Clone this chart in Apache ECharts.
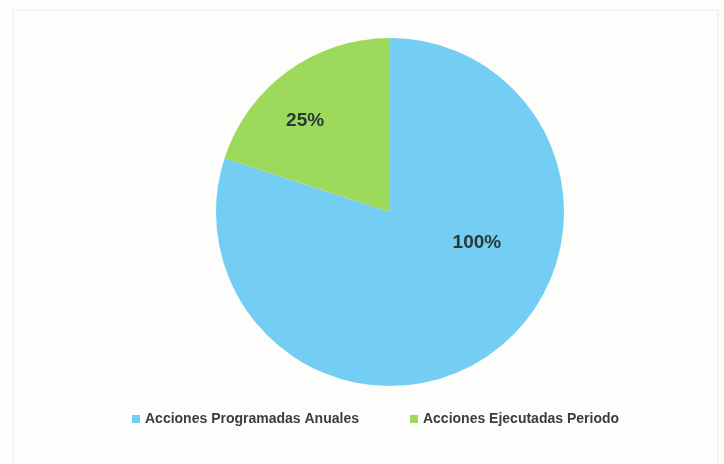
<!DOCTYPE html>
<html>
<head>
<meta charset="utf-8">
<script src="https://cdn.jsdelivr.net/npm/echarts@6/dist/echarts.min.js"></script>
<style>
  html, body { margin: 0; padding: 0; background: #fdfdfb; }
  #chart { width: 724px; height: 464px; }
</style>
</head>
<body>
<div id="chart"></div>
<script>
// Acciones programadas vs. ejecutadas en el periodo
const categories = ['Acciones Programadas Anuales', 'Acciones Ejecutadas Periodo'];
const values = [100, 25];
const colors = ['#74cdf3', '#9dd95b'];
const labelOffsets = [[34, -42], [-32, -18]];

const chart = echarts.init(document.getElementById('chart'), null, { renderer: 'canvas' });

chart.setOption({
  backgroundColor: '#fdfdfb',
  animation: false,
  graphic: [{
    type: 'rect',
    shape: { x: 13, y: 10, width: 705, height: 460 },
    style: { fill: 'none', stroke: '#e6efec', lineWidth: 1 },
    silent: true
  }],
  legend: {
    bottom: 33,
    left: 127,
    itemWidth: 8,
    itemHeight: 8,
    itemGap: 51,
    icon: 'rect',
    textStyle: {
      fontFamily: 'Liberation Sans, Arial, sans-serif',
      fontSize: 14,
      fontWeight: 'bold',
      color: '#3a3d3d',
      padding: [0, 0, 0, 0]
    },
    data: categories
  },
  series: [{
    type: 'pie',
    center: [390, 212],
    radius: 174,
    startAngle: 90,
    clockwise: true,
    label: {
      show: true,
      position: 'inside',
      formatter: '{c}%',
      fontFamily: 'Liberation Sans, Arial, sans-serif',
      fontWeight: 'bold',
      fontSize: 19,
      color: '#2b3838'
    },
    labelLine: { show: false },
    emphasis: { disabled: true },
    data: categories.map((name, i) => ({
      name: name,
      value: values[i],
      itemStyle: { color: colors[i] },
      label: { offset: labelOffsets[i] }
    }))
  }]
});
</script>
</body>
</html>
